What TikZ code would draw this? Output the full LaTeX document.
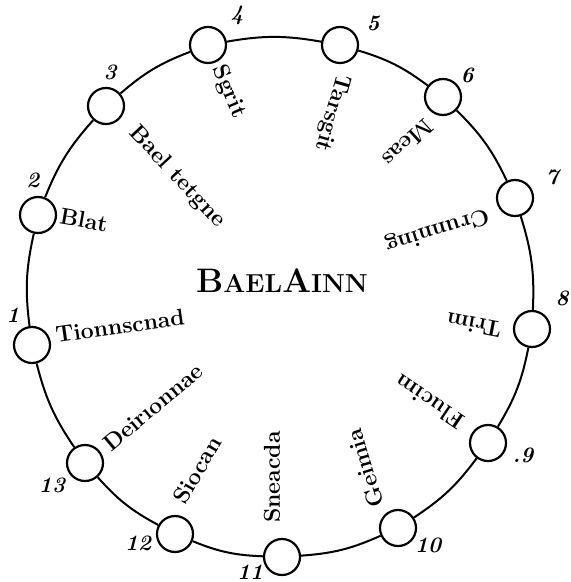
\documentclass[tikz,border=0pt]{standalone}
\begin{document}
\begin{tikzpicture}[x=0.5pt, y=-0.5pt,
    ring/.style={line width=1pt},
    marker/.style={circle, draw=black, line width=1.1pt, fill=white, minimum size=18pt, inner sep=0pt},
    numtag/.style={font=\fontsize{11}{11}\selectfont\bfseries\itshape, inner sep=0pt},
    month/.style={font=\fontsize{11.5}{12}\selectfont\bfseries, inner sep=0pt},
    heading/.style={font=\fontsize{17}{17}\selectfont\bfseries, inner sep=0pt}
]
    \useasboundingbox (0,0) rectangle (570,582);

    % Markers on the ring
    \foreach \n/\x/\y in {1/32/345, 2/38/215, 3/106/106, 4/208/45, 5/340/45,
        6/443/97, 7/515/198, 8/532/329, 9/488/443, 10/398/528, 11/282/557,
        12/175/534, 13/85/463}
        \node[marker] (m\n) at (\x,\y) {};

    % Ring
    \foreach \a/\b in {1/2, 2/3, 3/4, 4/5, 5/6, 6/7, 7/8, 8/9, 9/10, 10/11, 11/12, 12/13, 13/1}
        \draw[ring] (m\a) to[bend left=10] (m\b);

    % Numbers
    \node[numtag] (k1) at (13,315) {1};
    \node[numtag] (k2) at (33,180) {2};
    \node[numtag] (k3) at (110,72) {3};
    \node[numtag] (k4) at (237,15) {4};
    \node[numtag] (k5) at (373,23) {5};
    \node[numtag] (k6) at (467,75) {6};
    \node[numtag] (k7) at (552,177) {7};
    \node[numtag] (k8) at (562,298) {8};
    \node[numtag] (k9) at (523,455) {.9};
    \node[numtag] (k10) at (428,545) {10};
    \node[numtag] (k11) at (250,572) {11};
    \node[numtag] (k12) at (138,543) {12};
    \node[numtag] (k13) at (52,485) {13};

    % Names
    \node[month, rotate=8] (t1) at (120,326) {Tionnscnad};
    \node[month, rotate=-10] (t2) at (84,220) {Blat};
    \node[month, rotate=-47] (t3) at (177,177) {Bael tetgne};
    \node[month, rotate=-67] (t4) at (229,92) {Sgrit};
    \node[month, rotate=-106] (t5) at (332,113) {Tarsgit};
    \node[month, rotate=-137.5] (t6) at (408,143) {Meas};
    \node[month, rotate=197] (t7) at (437,230) {Crunning};
    \node[month, rotate=169] (t8) at (474,325) {Trim};
    \node[month, rotate=146] (t9) at (430,402) {Flucim};
    \node[month, rotate=107] (t10) at (365,468) {Geimia};
    \node[month, rotate=90] (t11) at (272,477) {Sneacda};
    \node[month, rotate=60] (t12) at (197,470) {Siocan};
    \node[month, rotate=40] (t13) at (153,407) {Deir\i onnae};

    \node[heading] (name) at (282,281) {B{\fontsize{13}{13}\selectfont AEL}A{\fontsize{13}{13}\selectfont INN}};
\end{tikzpicture}
\end{document}
